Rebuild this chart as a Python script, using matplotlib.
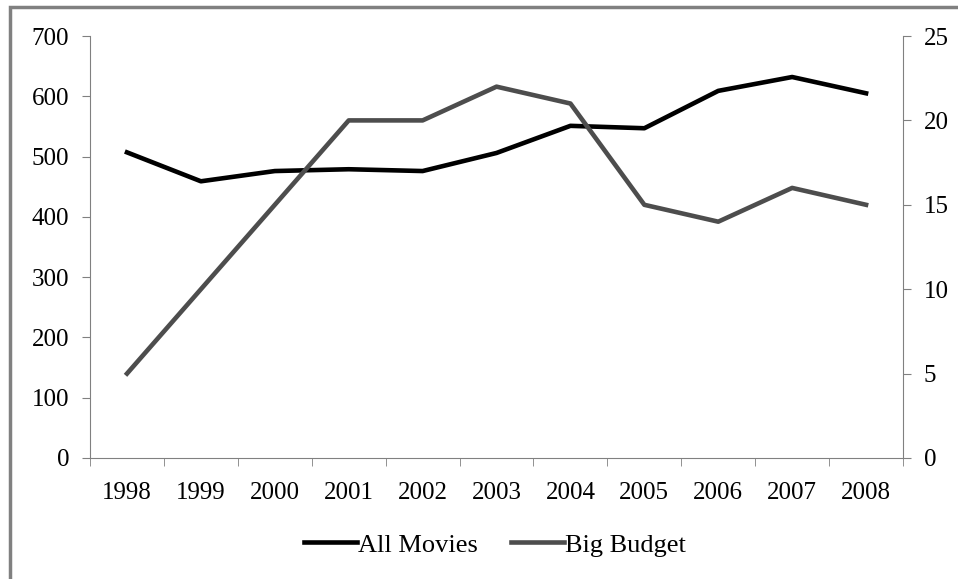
import matplotlib.pyplot as plt
from matplotlib.patches import Rectangle
import numpy as np

# datos
anios = ['1998', '1999', '2000', '2001', '2002', '2003',
         '2004', '2005', '2006', '2007', '2008']
all_movies = [507, 459, 476, 479, 476, 506, 551, 547, 609, 632, 605]
big_budget = [5, 10, 15, 20, 20, 22, 21, 15, 14, 16, 15]

plt.rcParams['font.family'] = ['Liberation Serif', 'DejaVu Serif']
plt.rcParams['font.size'] = 18

gris = '#808080'

fig = plt.figure(figsize=(9.58, 5.79), dpi=100)
ax = fig.add_axes([0.094, 0.209, 0.8486, 0.7288])
ax2 = ax.twinx()

x = np.arange(len(anios))
l1, = ax.plot(x, all_movies, color='black', lw=3.3, label='All Movies')
l2, = ax2.plot(x, big_budget, color='#4d4d4d', lw=3.3, label='Big Budget')

ax.set_xlim(-0.5, len(anios) - 0.5)
ax.set_ylim(0, 700)
ax.set_yticks(range(0, 701, 100))
ax2.set_ylim(0, 25)
ax2.set_yticks(range(0, 26, 5))

# etiquetas en el centro, marcas en los bordes de cada categoria
ax.set_xticks(x)
ax.set_xticklabels(anios)
ax.set_xticks(np.arange(-0.5, len(anios), 1), minor=True)
ax.tick_params(axis='x', which='major', length=0, pad=17)
ax.tick_params(axis='x', which='minor', length=6, color=gris)
ax.tick_params(axis='y', length=6, color=gris, pad=9)
ax2.tick_params(axis='y', length=6, color=gris, pad=9)

for a in (ax, ax2):
    a.spines['top'].set_visible(False)
    for s in ('left', 'right', 'bottom'):
        a.spines[s].set_color(gris)
ax.spines['right'].set_visible(False)
ax2.spines['left'].set_visible(False)
ax2.spines['bottom'].set_visible(False)

fig.legend(handles=[l1, l2], loc='center', bbox_to_anchor=(0.517, 0.059),
           ncol=2, frameon=False, fontsize=19, handlelength=2.0,
           handletextpad=0.05, columnspacing=1.25)

# marco gris del area del grafico
fig.patches.append(Rectangle((10 / 958, -0.05), 1.1, 1 - 7 / 579 + 0.05,
                             transform=fig.transFigure, fill=False,
                             edgecolor=gris, lw=2.5))

fig.savefig('out.png', dpi=100)
